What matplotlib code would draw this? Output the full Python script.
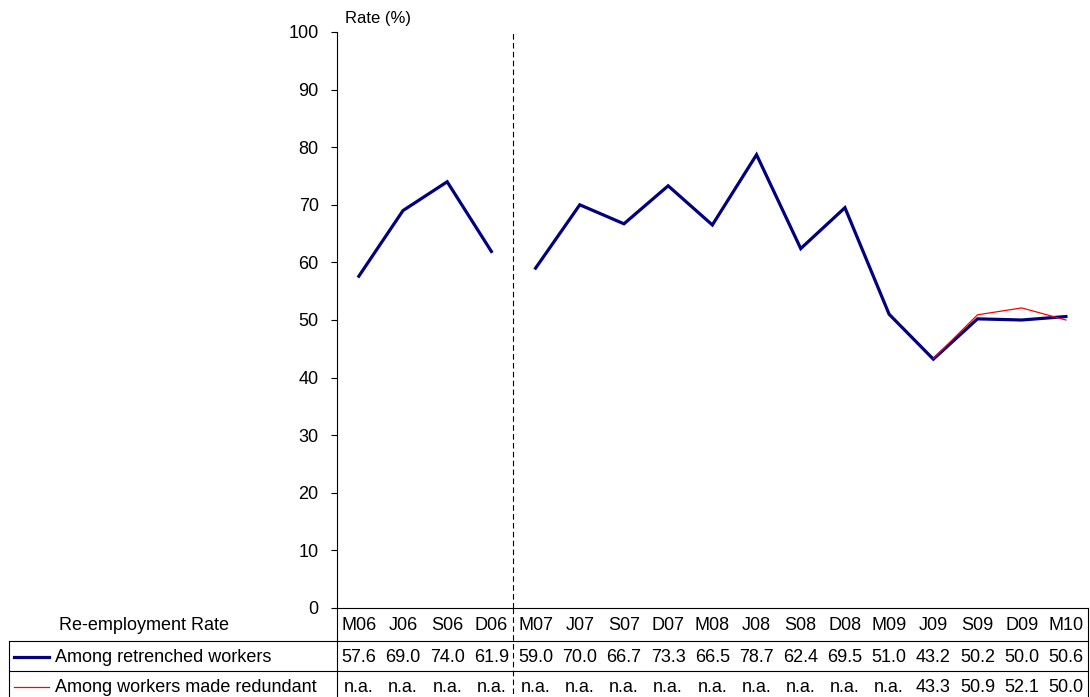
import numpy as np
import matplotlib
matplotlib.use("Agg")
import matplotlib.pyplot as plt
from matplotlib.lines import Line2D
from matplotlib.transforms import blended_transform_factory

plt.rcParams['font.family'] = ['Liberation Sans', 'DejaVu Sans']

# Quarter of survey (M = March, J = June, S = September, D = December)
quarters = ['M06', 'J06', 'S06', 'D06', 'M07', 'J07', 'S07', 'D07', 'M08',
            'J08', 'S08', 'D08', 'M09', 'J09', 'S09', 'D09', 'M10']
retrenched = [57.6, 69.0, 74.0, 61.9, 59.0, 70.0, 66.7, 73.3, 66.5,
              78.7, 62.4, 69.5, 51.0, 43.2, 50.2, 50.0, 50.6]
redundant = [np.nan] * 13 + [43.3, 50.9, 52.1, 50.0]
series_names = ['Among retrenched workers', 'Among workers made redundant']
series_colors = ['#000080', '#FF0000']
series_widths = [2.3, 0.9]
break_after = 4          # series definition changes after D06
yticks = list(range(0, 101, 10))

W, H = 1090, 697
fig = plt.figure(figsize=(W / 100, H / 100), dpi=100)


def fx(px):
    return px / W


def fy(py):
    return 1 - py / H


ax_left, ax_right, ax_top, ax_bottom = 336.7, 1088, 32, 608
ax = fig.add_axes([fx(ax_left), fy(ax_bottom),
                   fx(ax_right) - fx(ax_left), fy(ax_top) - fy(ax_bottom)])

n = len(quarters)
x = np.arange(n)
ax.set_xlim(-0.5, n - 0.5)
ax.set_ylim(0, 100)
ax.set_yticks(yticks)
ax.set_xticks([])
ax.tick_params(axis='y', direction='out', length=4.5, width=0.8,
               labelsize=13, pad=8.5, colors='black')
for side in ('top', 'right'):
    ax.spines[side].set_visible(False)
ax.spines['left'].set_linewidth(0.8)
ax.spines['bottom'].set_linewidth(0.8)
ax.patch.set_visible(False)

# Blue series with a break where the series definition changes
r = np.array(retrenched, dtype=float)
ax.plot(x[:break_after], r[:break_after], color=series_colors[0],
        lw=series_widths[0], solid_joinstyle='miter', zorder=3)
ax.plot(x[break_after:], r[break_after:], color=series_colors[0],
        lw=series_widths[0], solid_joinstyle='miter', zorder=3)
ax.plot(x, np.array(redundant, dtype=float), color=series_colors[1],
        lw=series_widths[1], zorder=4)

ax.axvline(break_after - 0.5, color='black', lw=0.8,
           linestyle=(0, (5, 3)), zorder=2)

ax.text(fx(345), fy(18), 'Rate (%)', transform=fig.transFigure,
        fontsize=12, ha='left', va='center')

# Data table beneath the plot
bt = blended_transform_factory(ax.transData, fig.transFigure)
tbl_left, tbl_right = 9, ax_right
row_lines = [608, 641, 671, 701]
row_centers = [625, 657, 687]
lw_tbl = 0.8


def hline(y, x0, x1):
    fig.add_artist(Line2D([fx(x0), fx(x1)], [fy(y), fy(y)], color='black',
                          lw=lw_tbl, transform=fig.transFigure))


def vline(xp, y0, y1, **kw):
    fig.add_artist(Line2D([fx(xp), fx(xp)], [fy(y0), fy(y1)], color='black',
                          lw=lw_tbl, transform=fig.transFigure, **kw))


hline(row_lines[1], tbl_left, tbl_right)
hline(row_lines[2], tbl_left, tbl_right)
hline(row_lines[3], tbl_left, tbl_right)
vline(tbl_left, row_lines[1], row_lines[3])
vline(ax_left, ax_bottom, row_lines[3])
vline(tbl_right, ax_bottom, row_lines[3])
fig.add_artist(Line2D([break_after - 0.5, break_after - 0.5],
                      [fy(ax_bottom), fy(row_lines[3])], color='black',
                      lw=0.8, linestyle=(0, (5, 3)), transform=bt))

fig.text(fx(144), fy(row_centers[0]), 'Re-employment Rate', fontsize=13,
         ha='center', va='center')
for i, q in enumerate(quarters):
    fig.text(i, fy(row_centers[0]), q, transform=bt, fontsize=13,
             ha='center', va='center')

for k, vals in enumerate([retrenched, redundant]):
    yc = fy(row_centers[k + 1])
    fig.add_artist(Line2D([fx(14), fx(49)], [yc, yc],
                          color=series_colors[k], lw=series_widths[k],
                          transform=fig.transFigure))
    fig.text(fx(55), yc, series_names[k], fontsize=13, ha='left', va='center')
    for i, v in enumerate(vals):
        label = 'n.a.' if np.isnan(v) else f'{v:.1f}'
        fig.text(i, yc, label, transform=bt, fontsize=13,
                 ha='center', va='center')

fig.savefig('out.png', dpi=100)
